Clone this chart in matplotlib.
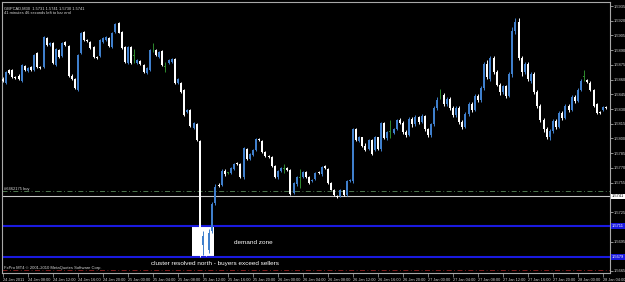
import numpy as np
import matplotlib
matplotlib.use("Agg")
import matplotlib.pyplot as plt
from matplotlib.patches import Rectangle
from matplotlib.transforms import blended_transform_factory

plt.rcParams['font.family'] = ['Liberation Sans', 'DejaVu Sans']

# GBPCAD M30 candles
opens = [1.5861, 1.5857, 1.5870, 1.5870, 1.5863, 1.5864, 1.5859, 1.5874, 1.5869, 1.5873,
         1.5870, 1.5887, 1.5873, 1.5873, 1.5902, 1.5895, 1.5897, 1.5875, 1.5890, 1.5884,
         1.5898, 1.5894, 1.5864, 1.5861, 1.5849, 1.5887, 1.5909, 1.5900, 1.5898, 1.5893,
         1.5883, 1.5884, 1.5898, 1.5900, 1.5902, 1.5893, 1.5909, 1.5918, 1.5909, 1.5893,
         1.5877, 1.5893, 1.5884, 1.5877, 1.5879, 1.5875, 1.5867, 1.5870, 1.5893, 1.5890,
         1.5883, 1.5889, 1.5873, 1.5877, 1.5878, 1.5881, 1.5857, 1.5857, 1.5849, 1.5827,
         1.5829, 1.5811, 1.5815, 1.5797, 1.5691, 1.5703, 1.5686, 1.5706, 1.5734, 1.5753,
         1.5753, 1.5767, 1.5765, 1.5765, 1.5769, 1.5775, 1.5774, 1.5761, 1.5789, 1.5779,
         1.5783, 1.5788, 1.5799, 1.5797, 1.5786, 1.5782, 1.5781, 1.5772, 1.5761, 1.5767,
         1.5769, 1.5770, 1.5768, 1.5744, 1.5754, 1.5760, 1.5761, 1.5766, 1.5761, 1.5757,
         1.5759, 1.5766, 1.5764, 1.5772, 1.5769, 1.5755, 1.5748, 1.5741, 1.5741, 1.5747,
         1.5742, 1.5757, 1.5757, 1.5810, 1.5797, 1.5801, 1.5792, 1.5789, 1.5798, 1.5788,
         1.5801, 1.5789, 1.5816, 1.5800, 1.5807, 1.5806, 1.5810, 1.5819, 1.5816, 1.5807,
         1.5804, 1.5820, 1.5815, 1.5822, 1.5817, 1.5823, 1.5810, 1.5804, 1.5815, 1.5831,
         1.5845, 1.5844, 1.5835, 1.5840, 1.5831, 1.5824, 1.5831, 1.5817, 1.5812, 1.5825,
         1.5835, 1.5829, 1.5843, 1.5839, 1.5851, 1.5876, 1.5861, 1.5882, 1.5868, 1.5855,
         1.5847, 1.5853, 1.5843, 1.5866, 1.5910, 1.5919, 1.5882, 1.5868, 1.5876, 1.5859,
         1.5866, 1.5847, 1.5833, 1.5819, 1.5810, 1.5802, 1.5808, 1.5818, 1.5812, 1.5826,
         1.5821, 1.5833, 1.5829, 1.5842, 1.5838, 1.5849, 1.5863, 1.5860, 1.5857, 1.5849,
         1.5835, 1.5827, 1.5829, 1.5832]

highs = [1.5863, 1.5869, 1.5871, 1.5871, 1.5864, 1.5866, 1.5876, 1.5875, 1.5873, 1.5874,
         1.5886, 1.5888, 1.5874, 1.5904, 1.5903, 1.5898, 1.5898, 1.5892, 1.5891, 1.5898,
         1.5899, 1.5895, 1.5866, 1.5862, 1.5886, 1.5909, 1.5910, 1.5901, 1.5899, 1.5894,
         1.5884, 1.5901, 1.5903, 1.5904, 1.5903, 1.5909, 1.5918, 1.5919, 1.5910, 1.5894,
         1.5894, 1.5894, 1.5891, 1.5881, 1.5880, 1.5876, 1.5873, 1.5891, 1.5897, 1.5891,
         1.5889, 1.5890, 1.5878, 1.5881, 1.5882, 1.5882, 1.5862, 1.5858, 1.5850, 1.5830,
         1.5830, 1.5817, 1.5816, 1.5798, 1.5706, 1.5706, 1.5708, 1.5735, 1.5754, 1.5755,
         1.5769, 1.5769, 1.5766, 1.5771, 1.5775, 1.5776, 1.5775, 1.5791, 1.5790, 1.5785,
         1.5789, 1.5800, 1.5800, 1.5798, 1.5787, 1.5783, 1.5782, 1.5773, 1.5768, 1.5771,
         1.5774, 1.5771, 1.5769, 1.5756, 1.5762, 1.5769, 1.5767, 1.5767, 1.5762, 1.5759,
         1.5766, 1.5767, 1.5772, 1.5773, 1.5770, 1.5756, 1.5749, 1.5742, 1.5749, 1.5748,
         1.5758, 1.5759, 1.5811, 1.5811, 1.5803, 1.5802, 1.5795, 1.5799, 1.5799, 1.5803,
         1.5802, 1.5817, 1.5817, 1.5808, 1.5819, 1.5811, 1.5820, 1.5821, 1.5818, 1.5809,
         1.5822, 1.5822, 1.5824, 1.5823, 1.5825, 1.5824, 1.5811, 1.5816, 1.5833, 1.5842,
         1.5850, 1.5846, 1.5842, 1.5842, 1.5833, 1.5833, 1.5833, 1.5819, 1.5827, 1.5837,
         1.5837, 1.5845, 1.5845, 1.5853, 1.5878, 1.5880, 1.5884, 1.5884, 1.5870, 1.5857,
         1.5855, 1.5855, 1.5868, 1.5914, 1.5923, 1.5923, 1.5884, 1.5878, 1.5878, 1.5868,
         1.5868, 1.5849, 1.5835, 1.5821, 1.5812, 1.5810, 1.5820, 1.5820, 1.5828, 1.5828,
         1.5835, 1.5835, 1.5844, 1.5844, 1.5851, 1.5861, 1.5870, 1.5861, 1.5859, 1.5850,
         1.5836, 1.5828, 1.5833, 1.5833]

lows = [1.5858, 1.5856, 1.5866, 1.5862, 1.5861, 1.5860, 1.5858, 1.5869, 1.5868, 1.5869,
        1.5869, 1.5872, 1.5871, 1.5872, 1.5894, 1.5894, 1.5876, 1.5874, 1.5882, 1.5883,
        1.5894, 1.5863, 1.5860, 1.5850, 1.5848, 1.5886, 1.5899, 1.5898, 1.5891, 1.5882,
        1.5881, 1.5883, 1.5897, 1.5899, 1.5893, 1.5892, 1.5908, 1.5907, 1.5891, 1.5877,
        1.5876, 1.5876, 1.5877, 1.5876, 1.5875, 1.5867, 1.5866, 1.5869, 1.5888, 1.5884,
        1.5882, 1.5874, 1.5868, 1.5876, 1.5877, 1.5856, 1.5856, 1.5846, 1.5823, 1.5826,
        1.5812, 1.5810, 1.5797, 1.5679, 1.5681, 1.5680, 1.5683, 1.5704, 1.5732, 1.5751,
        1.5752, 1.5762, 1.5764, 1.5764, 1.5768, 1.5773, 1.5760, 1.5759, 1.5778, 1.5778,
        1.5782, 1.5787, 1.5797, 1.5785, 1.5781, 1.5780, 1.5771, 1.5760, 1.5759, 1.5766,
        1.5765, 1.5767, 1.5742, 1.5743, 1.5752, 1.5750, 1.5760, 1.5760, 1.5754, 1.5756,
        1.5758, 1.5764, 1.5762, 1.5769, 1.5754, 1.5747, 1.5741, 1.5739, 1.5740, 1.5741,
        1.5741, 1.5756, 1.5755, 1.5797, 1.5796, 1.5791, 1.5787, 1.5788, 1.5783, 1.5787,
        1.5788, 1.5787, 1.5799, 1.5798, 1.5800, 1.5805, 1.5809, 1.5815, 1.5805, 1.5802,
        1.5803, 1.5812, 1.5813, 1.5815, 1.5816, 1.5808, 1.5802, 1.5802, 1.5813, 1.5829,
        1.5840, 1.5833, 1.5833, 1.5829, 1.5822, 1.5822, 1.5815, 1.5810, 1.5811, 1.5823,
        1.5827, 1.5828, 1.5837, 1.5837, 1.5849, 1.5861, 1.5859, 1.5866, 1.5853, 1.5844,
        1.5845, 1.5841, 1.5842, 1.5863, 1.5906, 1.5880, 1.5864, 1.5866, 1.5859, 1.5857,
        1.5845, 1.5831, 1.5817, 1.5807, 1.5799, 1.5798, 1.5806, 1.5810, 1.5811, 1.5819,
        1.5820, 1.5827, 1.5828, 1.5836, 1.5837, 1.5848, 1.5859, 1.5857, 1.5848, 1.5832,
        1.5825, 1.5825, 1.5828, 1.5830]

closes = [1.5859, 1.5868, 1.5867, 1.5863, 1.5862, 1.5861, 1.5875, 1.5870, 1.5872, 1.5870,
          1.5885, 1.5873, 1.5872, 1.5903, 1.5895, 1.5897, 1.5877, 1.5891, 1.5883, 1.5897,
          1.5895, 1.5864, 1.5861, 1.5851, 1.5885, 1.5908, 1.5900, 1.5899, 1.5892, 1.5883,
          1.5882, 1.5900, 1.5902, 1.5903, 1.5894, 1.5908, 1.5917, 1.5908, 1.5892, 1.5878,
          1.5893, 1.5877, 1.5884, 1.5880, 1.5876, 1.5868, 1.5872, 1.5890, 1.5893, 1.5885,
          1.5888, 1.5875, 1.5873, 1.5880, 1.5881, 1.5857, 1.5861, 1.5847, 1.5824, 1.5829,
          1.5813, 1.5816, 1.5798, 1.5686, 1.5701, 1.5688, 1.5704, 1.5733, 1.5751, 1.5752,
          1.5767, 1.5764, 1.5765, 1.5770, 1.5774, 1.5774, 1.5761, 1.5790, 1.5779, 1.5784,
          1.5788, 1.5799, 1.5798, 1.5786, 1.5782, 1.5781, 1.5772, 1.5761, 1.5767, 1.5770,
          1.5769, 1.5768, 1.5743, 1.5755, 1.5761, 1.5760, 1.5766, 1.5761, 1.5755, 1.5758,
          1.5765, 1.5765, 1.5771, 1.5770, 1.5755, 1.5748, 1.5742, 1.5740, 1.5748, 1.5742,
          1.5757, 1.5758, 1.5810, 1.5798, 1.5802, 1.5792, 1.5788, 1.5798, 1.5784, 1.5802,
          1.5789, 1.5816, 1.5800, 1.5807, 1.5807, 1.5810, 1.5819, 1.5816, 1.5807, 1.5804,
          1.5820, 1.5815, 1.5822, 1.5817, 1.5823, 1.5810, 1.5804, 1.5815, 1.5831, 1.5839,
          1.5845, 1.5835, 1.5840, 1.5831, 1.5824, 1.5831, 1.5817, 1.5812, 1.5825, 1.5835,
          1.5829, 1.5843, 1.5839, 1.5851, 1.5876, 1.5863, 1.5882, 1.5868, 1.5855, 1.5847,
          1.5853, 1.5843, 1.5866, 1.5910, 1.5919, 1.5882, 1.5868, 1.5876, 1.5861, 1.5866,
          1.5847, 1.5833, 1.5819, 1.5810, 1.5802, 1.5808, 1.5818, 1.5812, 1.5826, 1.5821,
          1.5833, 1.5829, 1.5842, 1.5838, 1.5849, 1.5859, 1.5863, 1.5858, 1.5849, 1.5833,
          1.5826, 1.5826, 1.5832, 1.5831]

date_labels = ["24 Jan 2011", "24 Jan 08:00", "24 Jan 12:00", "24 Jan 16:00", "24 Jan 20:00",
               "25 Jan 00:00", "25 Jan 04:00", "25 Jan 08:00", "25 Jan 12:00", "25 Jan 16:00",
               "25 Jan 20:00", "26 Jan 00:00", "26 Jan 04:00", "26 Jan 08:00", "26 Jan 12:00",
               "26 Jan 16:00", "26 Jan 20:00", "27 Jan 00:00", "27 Jan 04:00", "27 Jan 08:00",
               "27 Jan 12:00", "27 Jan 16:00", "27 Jan 20:00", "28 Jan 00:00", "28 Jan 04:00"]
bars_per_label = 8

bid = 1.5741
order_price = 1.5746
order_label = "#6462175 buy"
zone_high = 1.5711
zone_low = 1.5679
stop_price = 1.5666
zone_first_bar = 60.5
zone_last_bar = 67.5

price_ticks = np.round(np.arange(1.5665, 1.5936, 0.0015), 4)

header1 = "GBPCAD,M30  1.5731 1.5741 1.5730 1.5741"
header2 = "41 minutes 46 seconds left to bar end"
footer = "FxPro MT4 \u00a9 2001-2010 MetaQuotes Software Corp."

BULL = '#3f7fcc'
BEAR = '#ffffff'
DOJI = '#2e8b2e'
GRID = '#a8a8a8'
TXT = '#d8d8d8'

o = np.array(opens)
h = np.array(highs)
l = np.array(lows)
c = np.array(closes)
x = np.arange(len(o))

cols = [DOJI if cc == oo else (BULL if cc > oo else BEAR) for oo, cc in zip(o, c)]

fig = plt.figure(figsize=(6.25, 2.82), dpi=100, facecolor='black')
ax = fig.add_axes([2 / 625, 9 / 282, 608 / 625, 271 / 282])
ax.set_facecolor('black')

# demand zone box
ax.add_patch(Rectangle((zone_first_bar, zone_low), zone_last_bar - zone_first_bar,
                       zone_high - zone_low, facecolor='white', edgecolor='none', zorder=1))

# level lines
ax.axhline(zone_high, color='#1a1ae0', lw=1.5, zorder=1.5)
ax.axhline(zone_low, color='#1a1ae0', lw=1.5, zorder=1.5)
ax.axhline(order_price, color='#5a8a5a', lw=0.6, ls=(0, (6, 3, 1, 3)), zorder=1.5)
ax.axhline(stop_price, color='#9a2020', lw=0.6, ls=(0, (6, 3, 1, 3)), zorder=1.5)
ax.axhline(bid, color='#c8c8c8', lw=0.8, zorder=1.5)

# candles
body = np.maximum(np.abs(c - o), 0.00007)
ax.vlines(x, l, h, colors=cols, lw=0.7, zorder=2)
ax.bar(x, body, bottom=np.minimum(o, c), width=0.62, color=cols, linewidth=0, zorder=3)

ax.set_xlim(-0.3, -0.3 + 608 / 3.125)
ax.set_ylim(1.56629, 1.59391)

# axes look
for s in ax.spines.values():
    s.set_color(GRID)
    s.set_linewidth(0.8)

ax.yaxis.tick_right()
ylabels = [f"{p:.4f}" if abs(p - bid) > 0.0004 and abs(p - zone_high) > 0.0004
           and abs(p - zone_low) > 0.0004 else "" for p in price_ticks]
ax.set_yticks(price_ticks, ylabels)
ax.tick_params(axis='y', colors=GRID, labelcolor=TXT, labelsize=2.9, length=2, width=0.6, pad=1)

ax.set_xticks(np.arange(len(date_labels)) * bars_per_label, date_labels, ha='left')
ax.tick_params(axis='x', colors=GRID, labelcolor=TXT, labelsize=2.8, length=3, width=0.5, pad=0.5)

# price boxes on the right scale
tr = blended_transform_factory(ax.transAxes, ax.transData)
ax.text(1.003, bid, f"{bid:.4f}", transform=tr, fontsize=2.9, color='black', va='center', ha='left',
        bbox=dict(boxstyle='square,pad=0.2', fc='white', ec='none'), clip_on=False, zorder=5)
for p in (zone_high, zone_low):
    ax.text(1.003, p, f"{p:.4f}", transform=tr, fontsize=2.9, color='white', va='center', ha='left',
            bbox=dict(boxstyle='square,pad=0.2', fc='#1a1ae0', ec='none'), clip_on=False, zorder=5)

# texts
ax.text(0.003, 0.985, header1, transform=ax.transAxes, fontsize=2.9, color=TXT, va='top', ha='left')
ax.text(0.003, 0.965, header2, transform=ax.transAxes, fontsize=2.9, color=TXT, va='top', ha='left')
ax.text(0.003, order_price + 0.00008, order_label, transform=tr, fontsize=2.9, color=TXT, va='bottom', ha='left')
ax.text(0.003, 0.012, footer, transform=ax.transAxes, fontsize=3.0, color=TXT, va='bottom', ha='left')
ax.text(74, 1.56935, "demand zone", fontsize=4.6, color='white', va='center', ha='left')
ax.text(47.4, 1.56721, "cluster resolved north - buyers exceed sellers", fontsize=4.6, color='white',
        va='center', ha='left')

fig.savefig("out.png", dpi=100, facecolor='black')
